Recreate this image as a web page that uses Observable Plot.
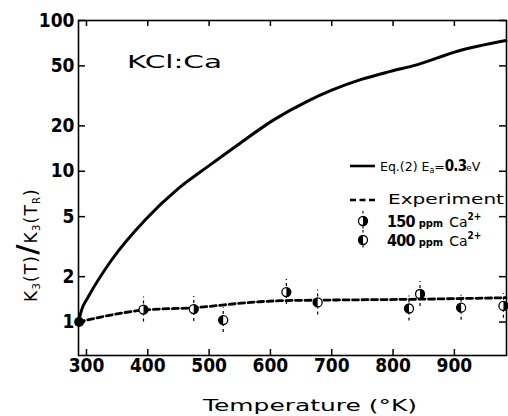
<!DOCTYPE html>
<html><head><meta charset="utf-8">
<script src="https://cdn.jsdelivr.net/npm/d3@7"></script>
<script src="https://cdn.jsdelivr.net/npm/@observablehq/plot@0.6"></script>
<style>
body{margin:0;background:#fff;}
#chart{width:508px;height:416px;}
svg{display:block;}
</style></head><body><div id="chart"></div>
<script>
// Eq.(2) curve, Ea = 0.3 eV
const eqT = [287, 292, 303, 341, 396, 450, 500, 550, 606, 660, 700, 747, 796, 840, 905, 984];
const eqV = [1, 1.2, 1.47, 2.58, 4.77, 7.7, 10.9, 15.3, 22, 29.1, 34.5, 40.5, 46, 51, 62.5, 73.6];
// Experiment (dashed)
const expT = [287, 393, 475, 578, 616, 703, 828, 984];
const expV = [1, 1.2, 1.245, 1.36, 1.385, 1.40, 1.415, 1.45];
// 150 ppm Ca2+
const ca150T = [393, 475, 626, 844, 980];
const ca150V = [1.21, 1.22, 1.58, 1.535, 1.28];
// 400 ppm Ca2+
const ca400T = [523, 677, 826, 911];
const ca400V = [1.03, 1.35, 1.23, 1.245];
// reference point T_R
const refT = [288];
const refV = [1];
const errFactor = 1.21;
const xTicks = [300, 400, 500, 600, 700, 800, 900];
const yTicks = [1, 2, 5, 10, 20, 50, 100];

const eq = eqT.map((t, i) => ({t, v: eqV[i]}));
const exp = expT.map((t, i) => ({t, v: expV[i]}));
const p150 = ca150T.map((t, i) => ({t, v: ca150V[i]}));
const p400 = ca400T.map((t, i) => ({t, v: ca400V[i]}));
const pts = p150.concat(p400);
const ref = refT.map((t, i) => ({t, v: refV[i]}));

const halfLeft = {draw(ctx, size) {const r = Math.sqrt(size / Math.PI); ctx.moveTo(0, -r); ctx.arc(0, 0, r, -Math.PI / 2, Math.PI / 2, true); ctx.closePath();}};
const halfRight = {draw(ctx, size) {const r = Math.sqrt(size / Math.PI); ctx.moveTo(0, -r); ctx.arc(0, 0, r, -Math.PI / 2, Math.PI / 2, false); ctx.closePath();}};

const NARROW = "'Liberation Sans Narrow','DejaVu Sans Condensed',sans-serif";
const WIDE = "'DejaVu Sans',sans-serif";

const W = 508, H = 416, ML = 78, MR = 2, MT = 20, MB = 61;
const innerW = W - ML - MR, innerH = H - MT - MB, tickLen = 7;

const plot = Plot.plot({
  width: W, height: H,
  marginLeft: ML, marginRight: MR, marginTop: MT, marginBottom: MB,
  style: {fontFamily: NARROW, fontWeight: "bold", fontSize: "19px", color: "black", background: "white"},
  x: {domain: [287, 985], axis: null},
  y: {type: "log", domain: [0.6, 100], axis: null},
  marks: [
    Plot.frame({stroke: "black", strokeWidth: 1.6}),
    // inward ticks on all four sides
    Plot.tickX(xTicks, {x: d => d, insetTop: innerH - 6, stroke: "black", strokeWidth: 1.5}),
    Plot.tickX(xTicks, {x: d => d, insetBottom: innerH - 6, stroke: "black", strokeWidth: 1.5}),
    Plot.tickY(yTicks, {y: d => d, insetRight: innerW - tickLen, stroke: "black", strokeWidth: 1.5}),
    Plot.tickY(yTicks, {y: d => d, insetLeft: innerW - tickLen, stroke: "black", strokeWidth: 1.5}),
    // tick labels
    Plot.text(xTicks, {x: d => d, text: d => String(d), frameAnchor: "bottom", lineAnchor: "top", dy: 3, letterSpacing: "-1.2px"}),
    Plot.text(yTicks, {y: d => d, text: d => String(d), frameAnchor: "left", textAnchor: "end", dx: -4, letterSpacing: "-1.2px"}),
    Plot.line(eq, {x: "t", y: "v", curve: "monotone-x", stroke: "black", strokeWidth: 3}),
    Plot.line(exp, {x: "t", y: "v", curve: "monotone-x", stroke: "black", strokeWidth: 2.8, strokeDasharray: "6,3.5"}),
    Plot.ruleX(pts, {x: "t", y1: d => d.v / errFactor, y2: d => d.v * errFactor, stroke: "black", strokeWidth: 1.2, strokeDasharray: "3,3"}),
    Plot.dot(pts, {x: "t", y: "v", r: 4.5, fill: "white", stroke: "black", strokeWidth: 1.3}),
    Plot.dot(p150, {x: "t", y: "v", r: 4.5, symbol: halfRight, fill: "black", stroke: "none"}),
    Plot.dot(p400, {x: "t", y: "v", r: 4.5, symbol: halfLeft, fill: "black", stroke: "none"}),
    Plot.dot(ref, {x: "t", y: "v", r: 5, fill: "black"})
  ]
});
document.getElementById("chart").appendChild(plot);

const svg = d3.select(plot);
const ann = svg.append("g").attr("text-anchor", "start").attr("font-weight", "normal");
// annotation
ann.append("text").attr("x", 127).attr("y", 68).attr("font-family", WIDE)
  .attr("font-size", 18.5).attr("textLength", 95).attr("lengthAdjust", "spacingAndGlyphs").text("KCl:Ca");
// x title
ann.append("text").attr("x", 203).attr("y", 411).attr("font-family", WIDE)
  .attr("font-size", 15.5).attr("textLength", 214).attr("lengthAdjust", "spacingAndGlyphs").text("Temperature (°K)");
// y title
const yt = ann.append("text").attr("transform", "translate(37,245) rotate(-90)").attr("text-anchor", "middle")
  .attr("font-family", WIDE).attr("font-size", 17).attr("letter-spacing", "1.2px");
yt.append("tspan").text("K");
yt.append("tspan").attr("font-size", 10).attr("dy", 3).text("3");
yt.append("tspan").attr("dy", -3).text("(T)");
yt.append("tspan").attr("font-size", 28).attr("font-weight", "bold").text("/");
yt.append("tspan").text("K");
yt.append("tspan").attr("font-size", 10).attr("dy", 3).text("3");
yt.append("tspan").attr("dy", -3).text("(T");
yt.append("tspan").attr("font-size", 10).attr("dy", 3).text("R");
yt.append("tspan").attr("dy", -3).text(")");

// legend
const lg = ann.append("g");
lg.append("line").attr("x1", 350).attr("x2", 375).attr("y1", 166).attr("y2", 166).attr("stroke", "black").attr("stroke-width", 2.6);
const t1 = lg.append("text").attr("x", 380).attr("y", 171).attr("font-family", WIDE).attr("font-size", 12.5);
t1.append("tspan").text("Eq.(2) E");
t1.append("tspan").attr("font-size", 8).attr("dy", 2).text("a");
t1.append("tspan").attr("dy", -2).text("=");
t1.append("tspan").attr("font-family", NARROW).attr("font-weight", "bold").attr("font-size", 15).attr("letter-spacing", "-0.8px").text("0.3");
t1.append("tspan").attr("font-size", 9).text("e");
t1.append("tspan").text("V");
lg.append("line").attr("x1", 350).attr("x2", 378).attr("y1", 200).attr("y2", 200).attr("stroke", "black").attr("stroke-width", 2.6).attr("stroke-dasharray", "6,3.5");
lg.append("text").attr("x", 388).attr("y", 204).attr("font-family", WIDE).attr("font-size", 13.5)
  .attr("textLength", 116).attr("lengthAdjust", "spacingAndGlyphs").text("Experiment");
[[221, "150", halfRight], [240, "400", halfLeft]].forEach(([cy, lab, sym]) => {
  lg.append("line").attr("x1", 363).attr("x2", 363).attr("y1", cy - 10).attr("y2", cy + 10).attr("stroke", "black").attr("stroke-width", 1.1).attr("stroke-dasharray", "2.5,2.5");
  lg.append("circle").attr("cx", 363).attr("cy", cy).attr("r", 4.5).attr("fill", "white").attr("stroke", "black").attr("stroke-width", 1.3);
  lg.append("path").attr("transform", `translate(363,${cy})`).attr("d", d3.symbol(sym, 4.5 * 4.5 * Math.PI)()).attr("fill", "black");
  const t = lg.append("text").attr("x", 387).attr("y", cy + 6).attr("font-family", NARROW).attr("font-weight", "bold").attr("font-size", 16);
  t.append("tspan").attr("letter-spacing", "-0.8px").text(lab);
  t.append("tspan").attr("font-size", 11).attr("dx", 4).text("ppm");
  t.append("tspan").attr("font-family", WIDE).attr("font-weight", "normal").attr("font-size", 14).attr("dx", 6).text("Ca");
  t.append("tspan").attr("font-size", 10).attr("dy", -7).text("2+");
});
</script></body></html>
